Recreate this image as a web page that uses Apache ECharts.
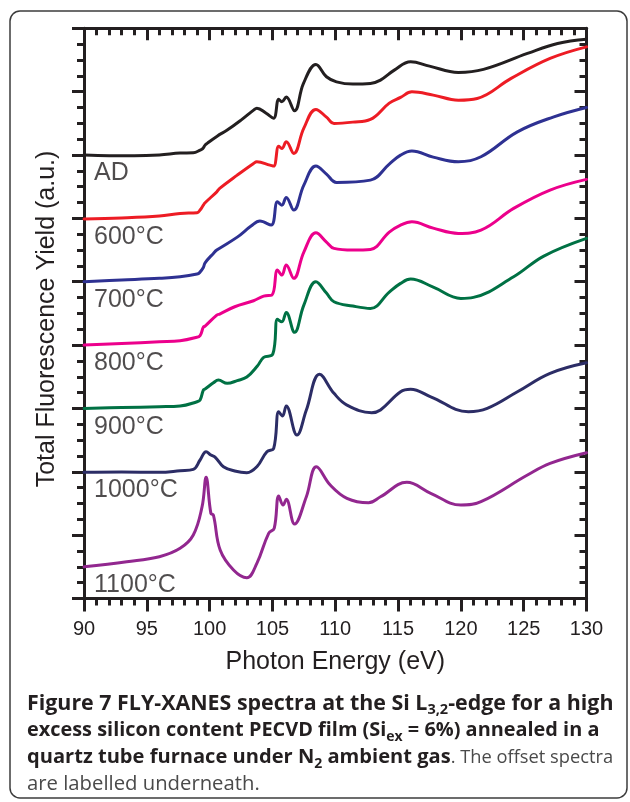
<!DOCTYPE html>
<html><head><meta charset="utf-8">
<script src="https://cdn.jsdelivr.net/npm/echarts@6/dist/echarts.min.js"></script>
<style>html,body{margin:0;padding:0;background:#fff}#c{width:630px;height:802px}</style>
</head><body><div id="c"></div>
<script>
// ---- data ----
const seriesNames = ['AD', '600°C', '700°C', '800°C', '900°C', '1000°C', '1100°C'];
const baselines = [70, 60, 50, 40, 30, 20, 5];
const xTicks = [90, 95, 100, 105, 110, 115, 120, 125, 130];

const xAD = [90, 92, 94, 96, 97.65, 98.7, 99.24, 99.45, 99.64, 99.8, 100.6, 101.4, 102.5, 103.5, 103.76, 104.5, 105.09, 105.5, 105.75, 106.1, 106.76, 107.47, 108.46, 109.3, 110.1, 111.4, 112.8, 113.6, 114.7, 116.0, 117.5, 119.8, 121.8, 125.3, 127.7, 130];
const yAD = [70.0, 69.9, 69.87, 70.0, 70.3, 70.35, 70.77, 71.0, 71.56, 71.83, 72.98, 73.93, 75.51, 77.09, 77.4, 76.6, 75.82, 78.82, 78.39, 79.14, 76.98, 81.3, 84.3, 82.35, 81.55, 81.19, 81.3, 81.82, 83.4, 84.71, 84.03, 83.03, 83.51, 86.03, 87.61, 88.29];

const x600 = [90, 93, 96, 97.65, 99.0, 99.24, 99.5, 99.64, 100.57, 100.8, 102.2, 103.5, 103.76, 104.8, 105.1, 105.5, 105.75, 106.1, 106.7, 107.5, 108.46, 109.3, 109.9, 111.4, 112.8, 114.3, 115.2, 116.1, 117.8, 119.8, 121.3, 124, 127.1, 130];
const y600 = [59.9, 60.05, 60.36, 60.78, 60.88, 61.31, 62.09, 62.46, 64.19, 64.73, 66.83, 68.67, 68.93, 68.41, 68.25, 71.4, 71.04, 72.08, 70.25, 74.24, 77.2, 75.98, 74.99, 75.19, 75.62, 78.19, 79.09, 79.97, 79.45, 78.66, 78.93, 82.09, 85.24, 87.07];

const x700 = [90, 93, 96, 97.65, 99.0, 99.2, 99.5, 99.64, 100.3, 100.57, 102.2, 103.3, 104.0, 104.9, 105.4, 105.75, 106.1, 106.7, 107.5, 108.46, 109.3, 110.1, 112.8, 114.3, 115.2, 116.1, 117.8, 119.8, 121.6, 124.5, 127.4, 130];
const y700 = [50.0, 50.26, 50.53, 50.78, 51.21, 51.44, 52.26, 52.99, 54.47, 54.99, 57.04, 58.78, 59.57, 58.94, 62.61, 62.09, 63.31, 61.31, 65.25, 68.25, 66.99, 65.68, 66.04, 68.56, 69.98, 70.62, 69.67, 68.93, 69.72, 73.66, 76.03, 77.51];

const x800 = [90, 93, 96, 97.65, 98.9, 99.24, 99.5, 99.64, 100.57, 100.8, 102.0, 103.5, 104.3, 104.96, 105.4, 105.75, 106.1, 106.7, 107.5, 108.46, 109.3, 109.9, 111.4, 112.8, 114.3, 115.2, 116.1, 117.8, 119.8, 121.6, 124.2, 127.1, 130];
const y800 = [40.0, 40.24, 40.52, 40.68, 41.19, 41.5, 42.84, 43.0, 44.74, 44.9, 46.05, 47.0, 47.73, 47.89, 51.84, 51.05, 52.63, 50.53, 54.68, 57.72, 56.26, 55.26, 54.99, 55.1, 57.83, 58.94, 59.46, 58.46, 57.63, 58.15, 61.57, 64.46, 66.15];

const x900 = [90, 93, 96, 97.65, 99.0, 99.24, 99.5, 99.64, 100.3, 100.7, 101.4, 102.2, 102.96, 103.8, 104.3, 105.03, 105.4, 105.75, 106.1, 106.76, 107.5, 108.46, 109.3, 109.9, 111.4, 112.8, 114.3, 115.2, 116, 117.8, 120, 121, 124.2, 126.6, 130];
const y900 = [30.0, 30.14, 30.27, 30.38, 31.06, 31.32, 32.9, 33.06, 34.05, 34.48, 33.96, 34.4, 34.95, 36.69, 38.06, 38.58, 44.06, 43.68, 45.16, 42.01, 46.31, 49.99, 48.21, 46.84, 46.16, 45.79, 48.37, 49.74, 50.42, 49.15, 47.37, 47.53, 50.78, 54.05, 56.84];

const x1000 = [90, 93, 96, 97.65, 98.7, 99.24, 99.72, 100.1, 100.45, 101.1, 102.0, 102.96, 103.76, 104.56, 105.1, 105.5, 105.8, 106.1, 106.95, 107.7, 108.75, 109.9, 110.93, 112.9, 113.6, 115.2, 116, 117.6, 120.6, 122.1, 124.5, 127.1, 130];
const y1000 = [19.91, 19.96, 19.91, 20.17, 20.39, 21.86, 23.17, 22.64, 22.28, 20.8, 20.12, 19.85, 20.8, 23.17, 23.7, 29.48, 28.8, 30.38, 25.8, 29.75, 35.38, 32.38, 30.53, 29.32, 29.75, 32.63, 33.01, 31.84, 29.48, 30.01, 32.63, 35.54, 37.21];

const x1100 = [90, 93.4, 96, 97.65, 98.7, 99.4, 99.72, 100.1, 100.3, 100.84, 101.9, 102.96, 103.76, 104.7, 105.14, 105.5, 105.85, 106.1, 106.76, 107.7, 108.5, 109.6, 110.93, 112.65, 113.6, 115.7, 117.6, 120, 121.6, 125.3, 127.1, 130];
const y1100 = [5.0, 5.81, 6.6, 7.92, 10.02, 14.49, 19.13, 13.44, 13.18, 7.65, 4.5, 3.28, 5.55, 10.29, 11.08, 16.17, 14.75, 15.65, 11.76, 16.06, 20.8, 17.91, 15.81, 15.12, 16.06, 18.33, 16.6, 14.75, 15.28, 19.49, 21.33, 23.01];

// ---- styling ----
const xs = [xAD, x600, x700, x800, x900, x1000, x1100];
const ys = [yAD, y600, y700, y800, y900, y1000, y1100];
const colors = ['#231f20', '#ed1c24', '#2e3192', '#ec008c', '#007144', '#2c2d66', '#92278f'];
const ink = '#231f20';
const fontMain = 'Liberation Sans, Arial, sans-serif';

const chart = echarts.init(document.getElementById('c'), null, {renderer: 'canvas'});

const lineSeries = seriesNames.map((n, i) => ({
  name: n,
  type: 'line',
  xAxisIndex: 0, yAxisIndex: 0,
  data: xs[i].map((x, j) => [x, ys[i][j]]),
  showSymbol: false,
  smooth: 0.4,
  lineStyle: {color: colors[i], width: 3, join: 'round', cap: 'round'},
  itemStyle: {color: colors[i]},
  z: 3,
  silent: true
}));

const labelSeries = {
  type: 'scatter',
  xAxisIndex: 0, yAxisIndex: 0,
  symbolSize: 0,
  silent: true,
  data: seriesNames.map((n, i) => ({name: n, value: [90.8, baselines[i] - 2.9]})),
  label: {show: true, position: 'right', distance: 0, formatter: '{b}', fontSize: 25, fontFamily: fontMain, color: ink},
  z: 4
};

function axisCommon(extra) {
  return Object.assign({
    type: 'value',
    axisLine: {show: true, onZero: false, lineStyle: {color: ink, width: 3}},
    splitLine: {show: false},
  }, extra);
}

function bold(size, lh) {
  return {fontFamily: 'Open Sans', fontWeight: 'bold', fontSize: size, lineHeight: lh, fill: ink, color: ink};
}
function sub(size) {
  return {fontFamily: 'Open Sans', fontWeight: 'bold', fontSize: size, lineHeight: 18, verticalAlign: 'bottom', fill: ink, color: ink};
}

const option = {
  animation: false,
  backgroundColor: '#fff',
  grid: {left: 84, top: 28.3, width: 502.5, height: 570.2, outerBoundsMode: 'none', containLabel: false},
  xAxis: [
    axisCommon({
      position: 'bottom', min: 90, max: 130, interval: 5,
      axisTick: {show: true, inside: false, length: 13, lineStyle: {color: ink, width: 3}},
      minorTick: {show: true, splitNumber: 5, length: 7, lineStyle: {color: ink, width: 3}},
      axisLabel: {show: true, fontSize: 20, fontFamily: fontMain, color: ink, margin: 21,
        formatter: v => (xTicks.indexOf(v) >= 0 ? String(v) : '')},
      name: 'Photon Energy (eV)', nameLocation: 'middle', nameGap: 51,
      nameTextStyle: {fontSize: 25, fontFamily: fontMain, color: ink}
    }),
    axisCommon({
      position: 'top', min: 90, max: 130, interval: 5,
      axisTick: {show: true, inside: true, length: 12, lineStyle: {color: ink, width: 3}},
      minorTick: {show: true, splitNumber: 5, length: 7, lineStyle: {color: ink, width: 3}},
      axisLabel: {show: false}
    })
  ],
  yAxis: [
    axisCommon({
      position: 'left', min: 0, max: 90, interval: 10,
      axisTick: {show: true, inside: false, length: 12, lineStyle: {color: ink, width: 3}},
      minorTick: {show: true, splitNumber: 4, length: 7, lineStyle: {color: ink, width: 3}},
      axisLabel: {show: false}
    }),
    axisCommon({
      position: 'right', min: 0, max: 90, interval: 10,
      axisTick: {show: true, inside: true, length: 12, lineStyle: {color: ink, width: 3}},
      minorTick: {show: true, splitNumber: 4, length: 7, lineStyle: {color: ink, width: 3}},
      axisLabel: {show: false}
    })
  ],
  graphic: [
    {type: 'rect', shape: {x: 10, y: 11, width: 617, height: 787, r: 10},
      style: {fill: 'none', stroke: '#3c3c3c', lineWidth: 1.5}, silent: true, z: -1},
    {type: 'text', x: 47, y: 319, rotation: Math.PI / 2, silent: true,
      style: {text: 'Total Fluorescence Yield (a.u.)', align: 'center', verticalAlign: 'middle',
        fontSize: 25, fontFamily: fontMain, fill: ink}},
    {type: 'text', x: 27, y: 690, silent: true,
      style: {
        text: '{b1|Figure 7 FLY-XANES spectra at the Si L}{s1|3,2}{b1|-edge for a high}\n' +
              '{b2|excess silicon content PECVD film (Si}{s2|ex}{b2| = 6%) annealed in a}\n' +
              '{b3|quartz tube furnace under N}{s2|2}{b3| ambient gas}{r3|. The offset spectra}\n' +
              '{r|are labelled underneath.}',
        verticalAlign: 'top', align: 'left',
        rich: {
          b1: bold(21.4, 27),
          s1: sub(14.5),
          b2: bold(19.9, 27),
          s2: sub(14),
          b3: bold(20.1, 27),
          r3: {fontFamily: 'Open Sans', fontWeight: 'normal', fontSize: 18.3, lineHeight: 27, fill: '#4a4a4a', color: '#4a4a4a'},
          r: {fontFamily: 'Open Sans', fontWeight: 'normal', fontSize: 20.3, lineHeight: 27, fill: '#4a4a4a', color: '#4a4a4a'}
        }
      }}
  ],
  series: lineSeries.concat([labelSeries])
};
chart.setOption(option);
</script>
</body></html>
